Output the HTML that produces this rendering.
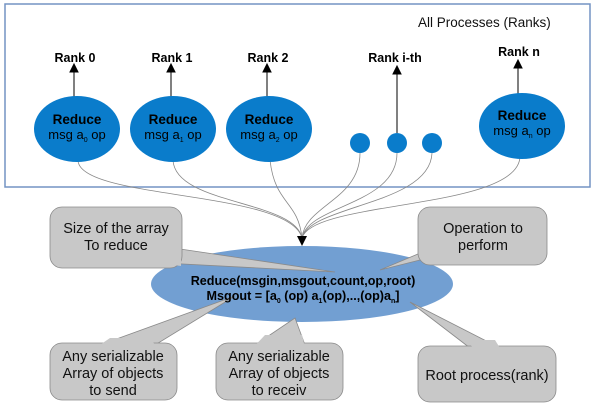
<!DOCTYPE html>
<html><head><style>
html,body{margin:0;padding:0;background:#fff;}
svg{display:block;font-family:"Liberation Sans",sans-serif;}
</style></head><body>
<svg width="600" height="409" viewBox="0 0 600 409" xmlns="http://www.w3.org/2000/svg">
<rect x="5" y="4" width="585" height="183" fill="#fff" stroke="#7393c4" stroke-width="1.5"/>
<text x="418" y="27" font-size="13.5" fill="#111">All Processes (Ranks)</text>

<g font-size="12.5" font-weight="bold" text-anchor="middle" fill="#000">
<text x="75" y="62">Rank 0</text>
<text x="172" y="62">Rank 1</text>
<text x="268" y="62">Rank 2</text>
<text x="395" y="62">Rank i-th</text>
<text x="519" y="56">Rank n</text>
</g>
<g stroke="#000" stroke-width="1">
<line x1="74" y1="98" x2="74" y2="70"/><path d="M70,72 L74,64 L78,72 Z"/>
<line x1="171" y1="98" x2="171" y2="70"/><path d="M167,72 L171,64 L175,72 Z"/>
<line x1="267" y1="98" x2="267" y2="70"/><path d="M263,72 L267,64 L271,72 Z"/>
<line x1="397" y1="133" x2="397" y2="72"/><path d="M393,74 L397,66 L401,74 Z"/>
<line x1="518" y1="95" x2="518" y2="66"/><path d="M514,68 L518,60 L522,68 Z"/>
</g>

<g fill="none" stroke="#888" stroke-width="0.8">
<path d="M78,160 C78,200 290,190 302,238"/>
<path d="M173,160 C175,205 295,200 302,238"/>
<path d="M270,160 C275,205 298,200 302,238"/>
<path d="M360,153 C360,200 305,205 302,238"/>
<path d="M397,153 C397,205 308,205 302,238"/>
<path d="M432,153 C430,205 310,205 302,238"/>
<path d="M520,156 C520,210 312,200 302,238"/>
</g>
<path d="M297,236 L307,236 L302,246 Z" fill="#000"/>

<g fill="#0a7ccb">
<ellipse cx="77" cy="129" rx="43" ry="33"/>
<ellipse cx="173" cy="129" rx="43" ry="33"/>
<ellipse cx="269" cy="129" rx="43" ry="33"/>
<ellipse cx="522" cy="126" rx="43" ry="33"/>
<circle cx="360" cy="143" r="10"/>
<circle cx="397" cy="143" r="10"/>
<circle cx="432" cy="143" r="10"/>
</g>
<g text-anchor="middle" fill="#000">
<text x="77" y="124" font-size="13.5" font-weight="bold">Reduce</text>
<text x="77" y="139" font-size="13">msg a<tspan font-size="7" dy="3">0</tspan><tspan dy="-3"> op</tspan></text>
<text x="173" y="124" font-size="13.5" font-weight="bold">Reduce</text>
<text x="173" y="139" font-size="13">msg a<tspan font-size="7" dy="3">1</tspan><tspan dy="-3"> op</tspan></text>
<text x="269" y="124" font-size="13.5" font-weight="bold">Reduce</text>
<text x="269" y="139" font-size="13">msg a<tspan font-size="7" dy="3">2</tspan><tspan dy="-3"> op</tspan></text>
<text x="522" y="120" font-size="13.5" font-weight="bold">Reduce</text>
<text x="522" y="135" font-size="13">msg a<tspan font-size="7" dy="3">n</tspan><tspan dy="-3"> op</tspan></text>
</g>

<ellipse cx="302" cy="284" rx="151" ry="38" fill="#729fd2"/>

<g fill="#c8c8c8" stroke="#8a8a8a" stroke-width="0.8">
<path d="M145,262 L335,272 L160,246 Z"/>
<rect x="50" y="207" width="132" height="61" rx="12"/>
<path d="M480,245 L380,270 L470,232 Z"/>
<rect x="418" y="207" width="129" height="58" rx="12"/>
<path d="M100,345 L235,296 L155,345 Z"/>
<rect x="50" y="343" width="127" height="57" rx="12"/>
<path d="M255,345 L295,318 L305,345 Z"/>
<rect x="216" y="343" width="127" height="57" rx="12"/>
<path d="M470,348 L410,302 L500,348 Z"/>
<rect x="418" y="346" width="138" height="56" rx="12"/>
</g>
<g stroke="none" fill="#c8c8c8">
<path d="M146,261 L160,248 L181,250 L181,266 Z"/>
<path d="M470,233 L480,244 L420,250 L420,237 Z"/>
<path d="M102,343.5 L154,343.5 L150,338 L110,338 Z"/>
<path d="M257,343.5 L304,343.5 L302,335 L265,335 Z"/>
<path d="M472,346.5 L499,346.5 L495,340 L465,340 Z"/>
</g>

<g text-anchor="middle" fill="#000" font-size="12.6" font-weight="bold">
<text x="303" y="285">Reduce(msgin,msgout,count,op,root)</text>
<text x="303" y="300">Msgout = [a<tspan font-size="7" dy="3">0</tspan><tspan dy="-3"> (op) a</tspan><tspan font-size="7" dy="3">1</tspan><tspan dy="-3">(op),..,(op)a</tspan><tspan font-size="7" dy="3">n</tspan><tspan dy="-3">]</tspan></text>
</g>

<g text-anchor="middle" fill="#111" font-size="14.5">
<text x="116" y="233">Size of the array</text>
<text x="116" y="250">To reduce</text>
<text x="483" y="233">Operation to</text>
<text x="483" y="250">perform</text>
<text x="113" y="361">Any serializable</text>
<text x="113" y="378">Array of objects</text>
<text x="113" y="395">to send</text>
<text x="279" y="361">Any serializable</text>
<text x="279" y="378">Array of objects</text>
<text x="279" y="395">to receiv</text>
<text x="487" y="380">Root process(rank)</text>
</g>
</svg>
</body></html>
